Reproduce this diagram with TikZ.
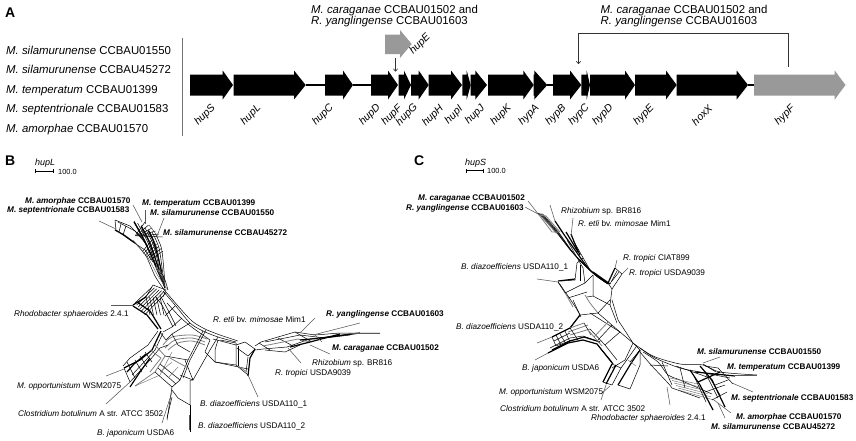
\documentclass[tikz,border=0pt]{standalone}
\usepackage{fontspec}
\setmainfont{Liberation Sans}
\usetikzlibrary{arrows.meta}
\newcommand{\sizeA}{\fontsize{11.4}{13}\selectfont}
\newcommand{\sizeN}{\fontsize{8.2}{10}\selectfont}
% gene arrow: name, start, tip, head start, colour
\newcommand{\gene}[5]{%
  \fill[#5] (#2,74.5) -- (#4,74.5) -- (#4,70.5) -- (#3,85) -- (#4,99.5) -- (#4,95.5) -- (#2,95.5) -- cycle;
  \coordinate (#1-s) at (#2,85); \coordinate (#1-e) at (#3,85);}
% left-anchored text: name, x, baseline y, text
\newcommand{\lab}[4]{\node[lab] (#1) at (#2,#3) {#4};}
% leader line with named ends
\newcommand{\leader}[5]{\coordinate (#1-a) at (#2,#3); \coordinate (#1-b) at (#4,#5); \draw[lead] (#1-a) -- (#1-b);}
\tikzset{
  x=1pt,y=-1pt,
  lab/.style={anchor=base west,inner sep=0pt,font=\sizeN},
  genelab/.style={rotate=45,inner sep=0pt,font=\fontsize{10.5}{12}\selectfont\itshape},
  lead/.style={draw=black!65,line width=0.55pt},
  net/.style={draw=black,line width=0.5pt,line join=round},
  nett/.style={draw=black,line width=1.2pt,line join=round},
  netg/.style={draw=black!50,line width=0.8pt,line join=round},
  netl/.style={draw=black!60,line width=0.4pt,line join=round},
  back/.style={draw=black,line width=1.2pt},
  bar/.style={draw=black,line width=0.6pt,{Bar[width=4pt]}-{Bar[width=4pt]}},
  open/.style={draw=black!80,line width=0.6pt,-{To[length=3pt,width=5pt]}},
  panel/.style={anchor=base west,inner sep=0pt,font=\fontsize{14}{16}\selectfont\bfseries},
}
\definecolor{geneg}{gray}{0.6}
\begin{document}
\begin{tikzpicture}
\useasboundingbox (0,0) rectangle (856,440);
% ---------- panel A
\node[panel] (pA) at (5,17) {A};
\node[panel] (pB) at (5,165) {B};
\node[panel] (pC) at (414,165) {C};
\foreach \n/\y/\t in {a1/54/{\textit{M. silamurunense} CCBAU01550},
  a2/73.5/{\textit{M. silamurunense} CCBAU45272},
  a3/93/{\textit{M. temperatum} CCBAU01399},
  a4/112.5/{\textit{M. septentrionale} CCBAU01583},
  a5/132/{\textit{M. amorphae} CCBAU01570}}
  {\node[lab,font=\sizeA] (\n) at (6,\y) {\t};}
\coordinate (divT) at (182,38); \coordinate (divB) at (182,136);
\draw[draw=black!55,line width=0.9pt] (divT) -- (divB);
\node[lab,font=\sizeA] (t1) at (311,13) {\textit{M. caraganae} CCBAU01502 and};
\node[lab,font=\sizeA] (t2) at (311,24.5) {\textit{R. yanglingense} CCBAU01603};
\node[lab,font=\sizeA] (t3) at (600.5,13) {\textit{M. caraganae} CCBAU01502 and};
\node[lab,font=\sizeA] (t4) at (600.5,24.5) {\textit{R. yanglingense} CCBAU01603};
\gene{hupS}{190}{233}{222.7}{black}
\gene{hupL}{233.5}{305.7}{294}{black}
\gene{hupC}{325}{353}{343}{black}
\gene{hupD}{371}{398}{388}{black}
\gene{hupF}{398.5}{411}{404}{black}
\gene{hupG}{411}{428.7}{418.7}{black}
\gene{hupH}{428.7}{462}{451}{black}
\gene{hupI}{462.3}{470.7}{466.7}{black}
\gene{hupJ}{470.7}{487}{475.3}{black}
\gene{hupK}{488}{533.7}{523.3}{black}
\gene{hypA}{533.7}{547.3}{534.3}{black}
\gene{hypB}{553}{581.3}{570}{black}
\gene{hypC}{581.3}{590}{586.7}{black}
\gene{hypD}{590}{635}{625}{black}
\gene{hypE}{635}{676.7}{666}{black}
\gene{hoxX}{676.7}{748}{736.7}{black}
\gene{hypF}{754}{845.5}{834.7}{geneg}
\draw[back] (hupL-e) -- (hupC-s);
\draw[back] (hupC-e) -- (hupD-s);
\draw[back] (hypA-e) -- (hypB-s);
\draw[back] (hoxX-e) -- (hypF-s);
% inserted hupE
\fill[geneg] (385,34.5) -- (400,34.5) -- (400,30) -- (411.7,44) -- (400,58) -- (400,54) -- (385,54) -- cycle;
\coordinate (insA) at (395.5,58); \coordinate (insB) at (395.5,71.5);
\draw[open] (insA) -- (insB);
\node[genelab] (ghupE) at (420,44) {hupE};
\coordinate (brA) at (788,67); \coordinate (brB) at (788,33); \coordinate (brC) at (578.5,33); \coordinate (brD) at (578.5,64);
\draw[open] (brA) -- (brB) -- (brC) -- (brD);
\foreach \n/\x/\y in {hupS/205/115,hupL/251/115,hupC/323/115,hupD/370/115,hupF/392/115.5,hupG/407/115,
  hupH/433/116,hupI/454/115,hupJ/475/115,hupK/501/115,hypA/529/115,hypB/556/115,hypC/579/115,hypD/603/115,
  hypE/644/115,hoxX/702/115,hypF/785/115}
  {\node[genelab] (g\n) at (\x,\y) {\n};}
% ---------- scale bars
\node[lab,font=\fontsize{9}{10}\selectfont\itshape] (sbB) at (35,165) {hupL};
\coordinate (sbBa) at (34.5,171); \coordinate (sbBb) at (54,171);
\draw[bar] (sbBa) -- (sbBb);
\node[lab,font=\fontsize{7.4}{9}\selectfont] (sbBt) at (58,174) {100.0};
\node[lab,font=\fontsize{9}{10}\selectfont\itshape] (sbC) at (465,165) {hupS};
\coordinate (sbCa) at (465.5,170.5); \coordinate (sbCb) at (484,170.5);
\draw[bar] (sbCa) -- (sbCb);
\node[lab,font=\fontsize{7.4}{9}\selectfont] (sbCt) at (487,173.5) {100.0};
% ---------- network B
% top bundle
\foreach \d in {0,...,6}{
  \draw[net] plot[smooth] coordinates {({134+3.6*\d},{221+2.2*\d}) ({146+2.6*\d},{243+1*\d}) ({156+1.4*\d},{268+1.4*\d}) (165,288)};
}
\foreach \d in {0,2,4}{
  \draw[nett] plot[smooth] coordinates {({134+3.6*\d},{222+2.2*\d}) ({144+2.6*\d},{240+1*\d}) ({156+1.4*\d},{266+1.4*\d})};
}
\foreach \d in {0,...,5}{
  \draw[net] ({135+1*\d},{236+0*\d}) -- ({145+3.5*\d},{222+3*\d});
  \draw[net] ({142+1.6*\d},{252+1.6*\d}) -- ({152+2.2*\d},{240+2.2*\d});
}
\draw[net] (115,220) -- (116,230) -- (130,240) -- (145,250) -- (153,262);
\draw[net] (115,220) -- (130,226) -- (142,238) -- (152,255);
\draw[net] (118,222) -- (135,231) -- (147,245);
\draw[net] (121,224) -- (119,232);
\draw[net] (126,226) -- (123,235);
\draw[nett] (115,230) -- (124,235) -- (135,243);
\draw[net] plot[smooth] coordinates {(135,243) (146,256) (155,276) (165,291)};
\draw[netl] plot[smooth] coordinates {(133,240) (148,258) (158,276) (168,290)};
\draw[net] plot[smooth] coordinates {(160,270) (165,280) (168,290)};
% Rhodobacter lattice
\draw[nett] (133,305) -- (146,297);
\draw[net] (146,297) -- (153,285) -- (166,290) -- (163,297);
\foreach \d in {0,...,6}{
  \draw[net] ({135+1.6*\d},{303+2*\d}) -- ({152+2.4*\d},{287+0.9*\d});
}
\foreach \d in {0,...,4}{
  \draw[net] ({146+3.5*\d},{297}) -- ({150+3.5*\d},{315});
}
\draw[nett] (133,306) -- (147,315) -- (158,329);
\draw[nett] (137,302) -- (150,311) -- (161,329);
\draw[net] (155,296) -- (162,305) -- (173,327);
\draw[net] (160,295) -- (168,310) -- (176,326);
% main arcs
\draw[net] plot[smooth] coordinates {(163,291) (175,305) (190,323) (203,331) (218,337) (236,342)};
\draw[net] plot[smooth] coordinates {(166,292) (178,306) (192,321) (205,329) (220,335) (238,341)};
\draw[net] plot[smooth] coordinates {(167,303) (181,318) (193,328) (210,340)};
\draw[net] (163,332) -- (172,327) -- (182,318);
\draw[net] (175,306) -- (165,316);
\draw[net] (160,332) -- (166,340) -- (172,334) -- (190,323);
\draw[netg] plot[smooth] coordinates {(165,348) (175,340) (192,338) (205,342)};
\draw[netg] plot[smooth] coordinates {(163,345) (172,337) (192,335) (207,339)};
\draw[netg] plot[smooth] coordinates {(168,350) (178,343) (192,341) (205,345)};
\draw[net] (172,334) -- (178,345) -- (190,352);
\draw[net] (203,331) -- (188,360) -- (180,380) -- (172,387);
\draw[net] (206,330) -- (190,360) -- (183,378);
\draw[net] (218,337) -- (210,350) -- (193,380);
\draw[net] (210,340) -- (205,352) -- (215,362);
\draw[net] (215,350) -- (215,362) -- (236,365);
\draw[net] (220,340) -- (236,343);
\draw[net] (215,362) -- (248,369);
\draw[net] (185,360) -- (193,380) -- (180,375);
% opportunistum lattice
\draw[nett] (161,331) -- (152,350) -- (140,360) -- (124,368);
\draw[net] (158,331) -- (148,345) -- (130,358) -- (123,366);
\draw[net] (163,333) -- (155,350) -- (146,360) -- (132,375);
\draw[nett] (150,358) -- (140,372) -- (130,387);
\draw[nett] (146,354) -- (134,364) -- (127,372);
\draw[net] (124,368) -- (130,382) -- (150,360) -- (160,348) -- (168,345);
\draw[net] (135,360) -- (142,372);
\draw[net] (127,362) -- (135,378);
\draw[net] (145,352) -- (152,362);
\draw[net] (140,356) -- (147,367);
\draw[netg] (155,345) -- (165,356) -- (155,372) -- (135,386);
\draw[netg] (150,350) -- (161,358) -- (150,372);
\draw[netl] (135,386) -- (160,375) -- (172,352);
\draw[net] (155,372) -- (172,387);
\draw[net] (160,364) -- (180,380);
\draw[net] (158,368) -- (176,384);
\draw[net] (165,356) -- (188,360);
\draw[netg] (170,358) -- (188,368);
\draw[netl] (160,372) -- (172,362);
\draw[netl] (168,378) -- (178,367);
% japonicum tips
\draw[net] (172,387) -- (167,420);
\draw[net] (172,397) -- (167,418);
\draw[net] (178,398) -- (190,405) -- (190,380) -- (193,380);
\draw[net] (190,405) -- (190,432);
\draw[net] (172,390) -- (178,398);
% right lattice
\draw[net] (236,343) -- (236,365) -- (248,375);
\draw[net] (238,346) -- (238,366);
\draw[net] (236,345) -- (245,342) -- (255,349) -- (248,356) -- (237,348);
\draw[nett] (255,349) -- (250,358) -- (248,376);
\draw[net] (248,357) -- (246,372);
\draw[net] (218,340) -- (215,350);
\draw[net] (213,339) -- (236,345);
\draw[netg] (238,366) -- (247,372);
% right bundle
\draw[net] (255,346) -- (261,342) -- (295,332) -- (315,335) -- (340,333) -- (380,333);
\draw[net] (255,350) -- (263,349) -- (287,347) -- (310,339) -- (357,333);
\draw[net] (259,343) -- (270,350);
\draw[net] (278,338) -- (293,346);
\draw[net] (295,332) -- (312,342);
\draw[net] (265,342) -- (300,335) -- (325,338) -- (350,335);
\draw[netg] (263,346) -- (298,339) -- (310,342);
\draw[nett] (300,340) -- (322,338) -- (360,333);
\draw[nett] (290,347) -- (310,342) -- (340,334);
\draw[net] (265,350) -- (285,352) -- (300,345);
\draw[netl] (315,335) -- (322,342);
% ---------- network C
% top bundle
\foreach \d in {0,...,3}{
  \draw[net] plot[smooth] coordinates {({538+1.5*\d},{213+0.3*\d}) ({556+1*\d},{232+0.3*\d}) ({572+1*\d},{252+\d}) ({592+\d},{272+\d}) ({608},{284})};
}
\draw[netg] (539,215) -- (552,232) -- (560,232) -- (546,216) -- cycle;
\draw[netg] (542,217) -- (556,233);
\draw[nett] plot[smooth] coordinates {(555,221) (565,236) (575,250) (590,270) (608,283)};
\draw[nett] plot[smooth] coordinates {(571,234) (575,244) (580,255)};
\draw[nett] plot[smooth] coordinates {(566,232) (572,242) (578,252)};
\draw[net] (567,240) -- (583,268);
\draw[net] (573,240) -- (590,270);
\draw[net] (577,263) -- (583,258);
\draw[nett] (593,272) -- (610,284);
% tropici box
\draw[nett] (608,283) -- (615,268);
\draw[net] (610,284) -- (617,271);
\draw[net] (612,281) -- (619,272);
\draw[net] (615,268) -- (622,274) -- (612,289) -- (608,283);
% left lattice
\draw[net] (577,263) -- (575,280) -- (561,281);
\draw[net] (583,268) -- (585,283);
\draw[net] (580,265) -- (580,281);
\draw[nett] (558,281) -- (575,279);
\draw[net] (558,282) -- (565,293) -- (585,283);
\draw[net] (568,298) -- (587,292);
\draw[netg] (560,284) -- (568,298) -- (573,307);
\draw[net] plot[smooth] coordinates {(558,282) (568,296) (576,308) (581,317)};
\draw[netg] plot[smooth] coordinates {(585,295) (590,303) (598,313)};
\draw[net] (585,283) -- (593,275);
% center lattice
\draw[net] (593,275) -- (593,296) -- (610,305) -- (612,289);
\draw[net] (587,297) -- (593,296);
\draw[net] (610,305) -- (617,323);
\draw[net] (612,300) -- (618,320) -- (633,343);
\draw[net] (573,300) -- (580,315) -- (598,313) -- (610,300);
\draw[net] (580,315) -- (570,328);
% left cluster of C
\draw[nett] (548,353) -- (568,343) -- (583,340) -- (597,344) -- (613,364);
\draw[nett] (552,350) -- (570,341) -- (584,337) -- (600,342);
\draw[net] (550,348) -- (570,338) -- (583,336) -- (600,342);
\draw[nett] (552,337) -- (570,328) -- (580,315);
\draw[net] (552,337) -- (556,346) -- (572,340);
\draw[net] (554,341) -- (570,333);
\draw[net] (556,335) -- (561,345);
\draw[net] (560,334) -- (566,344);
\draw[net] (565,331) -- (570,342);
\draw[netg] (570,328) -- (584,323);
\draw[netg] (568,332) -- (588,325);
\draw[netg] (570,335) -- (590,329);
\draw[net] (570,328) -- (578,340);
\draw[net] (584,323) -- (591,335);
\draw[net] (590,313) -- (620,332);
\draw[net] (590,329) -- (605,345) -- (620,332);
\draw[net] (598,313) -- (620,332) -- (633,343);
\draw[netg] (588,330) -- (602,346);
\draw[net] (605,345) -- (617,360);
\draw[net] (600,348) -- (612,362);
\draw[net] (612,325) -- (598,340);
\draw[netg] (608,322) -- (594,337);
% bottom box of C
\draw[nett] (603,382) -- (612,364);
\draw[nett] (606,384) -- (616,365);
\draw[net] (603,382) -- (612,385) -- (621,368) -- (612,364);
\draw[nett] (618,385) -- (630,365) -- (640,350);
\draw[net] (612,368) -- (625,360) -- (633,343);
\draw[net] (621,368) -- (636,347);
\draw[net] (618,385) -- (630,389) -- (640,365) -- (640,350);
\draw[netl] (628,360) -- (636,366);
\draw[net] (633,343) -- (640,350) -- (630,362);
% right fan of C
\draw[net] plot[smooth] coordinates {(633,343) (653,356) (680,364) (703,365) (720,372) (757,375)};
\draw[net] plot[smooth] coordinates {(640,348) (655,358) (680,368) (700,372) (730,378)};
\draw[net] plot[smooth] coordinates {(640,352) (652,366) (668,383) (672,388)};
\draw[net] plot[smooth] coordinates {(643,352) (658,362) (668,375) (680,380) (712,394)};
\foreach \d in {0,...,5}{
  \draw[netl] ({670+2*\d},{378+2.5*\d}) -- ({698+3.2*\d},{384+3.2*\d});
}
\draw[net] (672,388) -- (700,398);
\draw[net] (650,365) -- (668,366);
\draw[net] (662,362) -- (672,385);
\draw[net] (680,368) -- (685,388);
\draw[nett] (700,366) -- (712,380) -- (725,407);
\draw[nett] (690,370) -- (700,385) -- (713,410);
\draw[nett] (695,372) -- (735,376);
\draw[nett] (698,382) -- (720,372);
\draw[net] (705,366) -- (718,368) -- (733,384);
\draw[net] (676,366) -- (710,378) -- (720,395);
\draw[net] (715,385) -- (728,380);
\draw[net] (705,392) -- (725,385);
\draw[net] (712,400) -- (727,392);
\draw[net] (703,364) -- (716,372);
\draw[net] (694,376) -- (706,402);
\draw[net] (705,372) -- (718,398);
% ---------- leaders of B
\leader{lb1}{133}{205}{142}{222}
\leader{lb2}{145}{210}{145}{224}
\leader{lb3}{164}{218}{157}{236}
\leader{lb4}{149}{225}{156}{234}
\leader{lb5}{99}{221}{116}{229}
\leader{lb6}{111}{305}{133}{305}
\leader{lb7}{106}{376}{124}{369}
\leader{lb8}{106}{404}{130}{382}
\leader{lb9}{162}{423}{172}{392}
\leader{lb10}{189}{415}{189}{430}
\leader{lb11}{248}{375}{258}{397}
\leader{lb12}{288}{348}{301}{363}
\leader{lb13}{310}{345}{330}{354}
\leader{lb14}{300}{333}{315}{318}
\leader{lb15}{313}{335}{360}{323}
\leader{lb16}{350}{333}{380}{333}
% ---------- leaders of C
\leader{lc1}{528}{201}{539}{215}
\leader{lc2}{525}{207}{538}{214}
\leader{lc3}{550}{205}{555}{221}
\leader{lc4}{573}{218}{571}{236}
\leader{lc5}{617}{260}{615}{268}
\leader{lc6}{628}{268}{622}{274}
\leader{lc7}{537}{279}{558}{282}
\leader{lc8}{537}{343}{552}{337}
\leader{lc9}{535}{360}{548}{353}
\leader{lc10}{601}{394}{610}{386}
\leader{lc11}{601}{400}{606}{385}
\leader{lc12}{667}{387}{670}{405}
\leader{lc13}{703}{363}{720}{357}
\leader{lc14}{735}{375}{757}{375}
\leader{lc15}{732}{383}{753}{392}
\leader{lc16}{714}{400}{731}{413}
\leader{lc17}{718}{403}{725}{418}
% ---------- labels of B
\lab{nb1}{25}{203}{\textit{\textbf{M. amorphae}} \textbf{CCBAU01570}}
\lab{nb2}{7}{212}{\textit{\textbf{M. septentrionale}} \textbf{CCBAU01583}}
\lab{nb3}{142}{205}{\textit{\textbf{M. temperatum}} \textbf{CCBAU01399}}
\lab{nb4}{150}{215}{\textit{\textbf{M. silamurunense}} \textbf{CCBAU01550}}
\lab{nb5}{163}{235}{\textit{\textbf{M. silamurunense}} \textbf{CCBAU45272}}
\lab{nb6}{14}{316}{\textit{Rhodobacter sphaeroides} 2.4.1}
\lab{nb7}{17}{388}{\textit{M. opportunistum} WSM2075}
\lab{nb8}{18}{416}{\textit{Clostridium botulinum} A str. ATCC 3502}
\lab{nb9}{97}{435}{\textit{B. japonicum} USDA6}
\lab{nb10}{200}{406}{\textit{B. diazoefficiens} USDA110\_1}
\lab{nb11}{198}{428}{\textit{B. diazoefficiens} USDA110\_2}
\lab{nb12}{275}{375}{\textit{R. tropici} USDA9039}
\lab{nb13}{312}{365}{\textit{Rhizobium} sp. BR816}
\lab{nb14}{213}{322}{\textit{R. etli} bv. \textit{mimosae} Mim1}
\lab{nb15}{326}{316}{\textit{\textbf{R. yanglingense}} \textbf{CCBAU01603}}
\lab{nb16}{332}{350}{\textit{\textbf{M. caraganae}} \textbf{CCBAU01502}}
% ---------- labels of C
\lab{nc1}{418}{200}{\textit{\textbf{M. caraganae}} \textbf{CCBAU01502}}
\lab{nc2}{406}{210}{\textit{\textbf{R. yanglingense}} \textbf{CCBAU01603}}
\lab{nc3}{561}{213}{\textit{Rhizobium} sp. BR816}
\lab{nc4}{578}{226}{\textit{R. etli} bv. \textit{mimosae} Mim1}
\lab{nc5}{623}{260}{\textit{R. tropici} CIAT899}
\lab{nc6}{629}{275}{\textit{R. tropici} USDA9039}
\lab{nc7}{461}{269}{\textit{B. diazoefficiens} USDA110\_1}
\lab{nc8}{456}{329}{\textit{B. diazoefficiens} USDA110\_2}
\lab{nc9}{522}{370}{\textit{B. japonicum} USDA6}
\lab{nc10}{499}{394}{\textit{M. opportunistum} WSM2075}
\lab{nc11}{500}{411}{\textit{Clostridium botulinum} A str. ATCC 3502}
\lab{nc12}{591}{420}{\textit{Rhodobacter sphaeroides} 2.4.1}
\lab{nc13}{697}{354}{\textit{\textbf{M. silamurunense}} \textbf{CCBAU01550}}
\lab{nc14}{727}{369}{\textit{\textbf{M. temperatum}} \textbf{CCBAU01399}}
\lab{nc15}{731}{400}{\textit{\textbf{M. septentrionale}} \textbf{CCBAU01583}}
\lab{nc16}{736}{419}{\textit{\textbf{M. amorphae}} \textbf{CCBAU01570}}
\lab{nc17}{711}{429}{\textit{\textbf{M. silamurunense}} \textbf{CCBAU45272}}
\end{tikzpicture}
\end{document}
